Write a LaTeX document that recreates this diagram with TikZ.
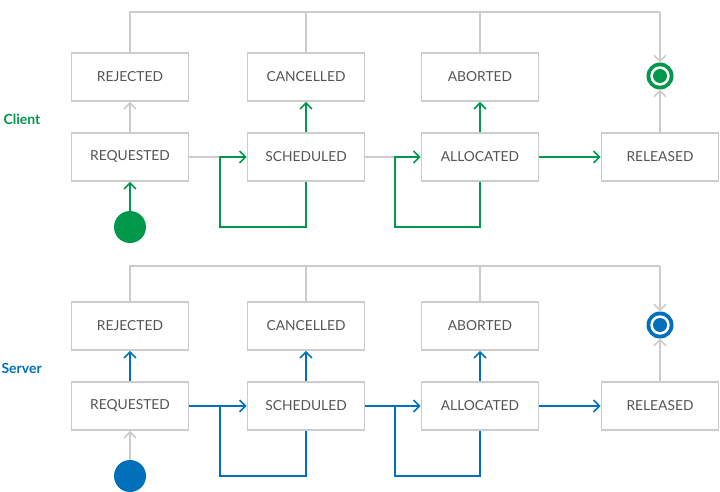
\documentclass[tikz,border=0pt]{standalone}
\usepackage{fontspec}
\setmainfont{Lato}
\usetikzlibrary{arrows.meta}
\definecolor{cgreen}{HTML}{00984A}
\definecolor{cblue}{HTML}{0070BB}
\definecolor{lgrey}{HTML}{CCCCCC}
\definecolor{tgrey}{HTML}{555555}
\begin{document}
\begin{tikzpicture}[x=1pt,y=-1pt]

      % state boxes, the lines between them and the start/end markers
      \tikzstyle{state}=[draw=lgrey,line width=1.7pt,minimum width=117pt,minimum height=48pt,inner sep=0pt,
                         text=tgrey,font=\fontsize{13.8}{16}\selectfont]
      \tikzstyle{link}=[line width=1.6pt]
      \tikzstyle{flow}=[link,-{Straight Barb[length=6pt,width=12pt,line width=1.6pt]}]
      \tikzstyle{lane}=[font=\bfseries\fontsize{14}{16}\selectfont,anchor=west]

      \def\ca{130}    % x of the first column
      \def\cb{306}    % x of the second column
      \def\cc{480}    % x of the third column
      \def\cd{660}    % x of the last column

      \fill[white] (0,0) rectangle (720,492);
      \useasboundingbox (0,0) rectangle (720,492);

      % ---------- Client ----------
      \node[lane,text=cgreen] at (0,119) {Client};
      \node[state] (crej) at (\ca,77) {REJECTED};
      \node[state] (ccan) at (\cb,77) {CANCELLED};
      \node[state] (cabo) at (\cc,77) {ABORTED};
      \node[state] (creq) at (\ca,157) {REQUESTED};
      \node[state] (csch) at (\cb,157) {SCHEDULED};
      \node[state] (calo) at (\cc,157) {ALLOCATED};
      \node[state] (crel) at (\cd,157) {RELEASED};
      \node[circle,fill=cgreen,minimum size=32pt,inner sep=0pt] (cstart) at (\ca,227) {};
      \node[circle,fill=cgreen,minimum size=27pt,inner sep=0pt] (cend) at (\cd,76) {};
      \fill[white] (cend) circle (9.7);
      \fill[cgreen] (cend) circle (7);

      \coordinate (ctop) at (0,12);
      \coordinate (cja) at (220,157);
      \coordinate (cjb) at (395,157);
      \coordinate (cla) at (220,227);
      \coordinate (clb) at (395,227);

      \draw[link,lgrey] (crej.north) |- (ctop -| cend);
      \draw[flow,lgrey] (ctop -| cend) -- (cend.north);
      \draw[link,lgrey] (ccan.north) -- (ccan.north |- ctop);
      \draw[link,lgrey] (cabo.north) -- (cabo.north |- ctop);
      \draw[flow,lgrey] (crel) -- (cend);
      \draw[flow,lgrey] (creq) -- (crej);
      \draw[link,lgrey] (creq.east) -- (cja);
      \draw[link,lgrey] (csch.east) -- (cjb);

      \draw[flow,cgreen] (cstart) -- (creq);
      \draw[flow,cgreen] (csch.south) |- (cla) -- (cja) -- (csch.west);
      \draw[flow,cgreen] (calo.south) |- (clb) -- (cjb) -- (calo.west);
      \draw[flow,cgreen] (csch) -- (ccan);
      \draw[flow,cgreen] (calo) -- (cabo);
      \draw[flow,cgreen] (calo) -- (crel);

      % ---------- Server ----------
      \node[lane,text=cblue] at (-2,368) {Server};
      \node[state] (srej) at (\ca,326) {REJECTED};
      \node[state] (scan) at (\cb,326) {CANCELLED};
      \node[state] (sabo) at (\cc,326) {ABORTED};
      \node[state] (sreq) at (\ca,406) {REQUESTED};
      \node[state] (ssch) at (\cb,406) {SCHEDULED};
      \node[state] (salo) at (\cc,406) {ALLOCATED};
      \node[state] (srel) at (\cd,406) {RELEASED};
      \node[circle,fill=cblue,minimum size=32pt,inner sep=0pt] (sstart) at (\ca,476) {};
      \node[circle,fill=cblue,minimum size=27pt,inner sep=0pt] (send) at (\cd,325) {};
      \fill[white] (send) circle (9.7);
      \fill[cblue] (send) circle (7);

      \coordinate (stop) at (0,266);
      \coordinate (sja) at (220,406);
      \coordinate (sjb) at (395,406);
      \coordinate (sla) at (220,476);
      \coordinate (slb) at (395,476);

      \draw[link,lgrey] (srej.north) |- (stop -| send);
      \draw[flow,lgrey] (stop -| send) -- (send.north);
      \draw[link,lgrey] (scan.north) -- (scan.north |- stop);
      \draw[link,lgrey] (sabo.north) -- (sabo.north |- stop);
      \draw[flow,lgrey] (srel) -- (send);
      \draw[flow,lgrey] (sstart) -- (sreq);

      \draw[flow,cblue] (sreq) -- (srej);
      \draw[flow,cblue] (sreq) -- (ssch);
      \draw[link,cblue] (ssch.south) |- (sla) -- (sja);
      \draw[flow,cblue] (ssch) -- (salo);
      \draw[link,cblue] (salo.south) |- (slb) -- (sjb);
      \draw[flow,cblue] (ssch) -- (scan);
      \draw[flow,cblue] (salo) -- (sabo);
      \draw[flow,cblue] (salo) -- (srel);

\end{tikzpicture}
\end{document}
